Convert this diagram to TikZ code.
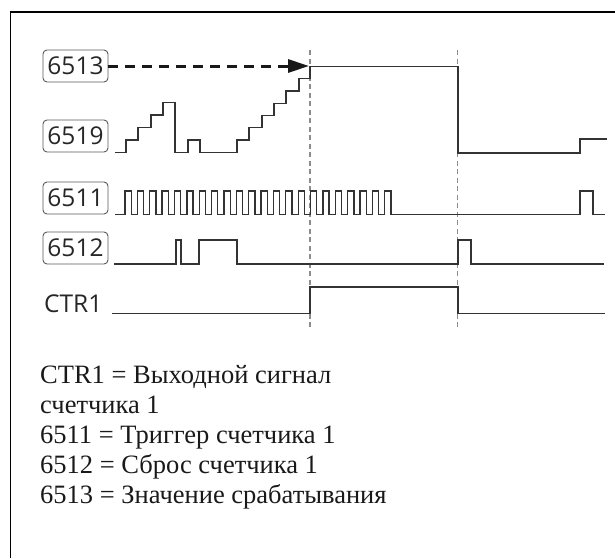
\documentclass[tikz,border=0pt]{standalone}
\usepackage{fontspec}
\setmainfont{Liberation Serif}
\newfontfamily\lblfont{Open Sans}
\usetikzlibrary{arrows.meta}
\begin{document}
\begin{tikzpicture}[x=1pt,y=-1pt,
  sig/.style={line width=1.3pt, draw=black!80, line join=miter},
  lbl/.style={draw=black!65, rounded corners=4pt, line width=0.9pt, minimum width=65pt, minimum height=32pt, inner sep=0pt, font=\lblfont\fontsize{24.5}{24.5}\selectfont, text=black!85},
  plainlbl/.style={inner sep=0pt, anchor=west, font=\lblfont\fontsize{24.5}{24.5}\selectfont, text=black!85},
  guide/.style={draw=black!45, line width=1.1pt, dash pattern=on 5pt off 3.5pt},
  setp/.style={draw=black!90, line width=3pt, dash pattern=on 10pt off 7pt, -{Triangle[length=21pt,width=13pt]}},
  legend/.style={anchor=base west, inner sep=0pt, font=\fontsize{26.5}{30}\selectfont, text=black!90}]
\useasboundingbox (0,0) rectangle (615,558);
% frame
\draw[line width=1.3pt, black] (10.5,558) -- (10.5,12) -- (615,12);

% labels
\node[lbl] (l6513) at (75.5,66) {6513};
\node[lbl] (l6519) at (75.5,136) {6519};
\node[lbl] (l6511) at (75.5,198) {6511};
\node[lbl] (l6512) at (75.5,248) {6512};
\node[plainlbl] (lctr) at (44,304) {CTR1};

% guides
\coordinate (g1t) at (310,50); \coordinate (g1b) at (310,330);
\coordinate (g2t) at (457.5,50); \coordinate (g2b) at (457.5,330);
\draw[guide] (g1t) -- (g1b);
\draw[guide] (g2t) -- (g2b);

% setpoint arrow
\coordinate (a6513) at (309,66);
\draw[setp] (l6513.east) -- (a6513);

% 6519 signal
\draw[sig] (115,152.5) -- (126,152.5) -- (126,140) -- (138,140) -- (138,127.5) -- (151,127.5) -- (151,115) -- (163,115) -- (163,102.5) -- (175,102.5) -- (175,152.5) -- (188,152.5) -- (188,140) -- (200,140) -- (200,152.5) -- (237,152.5) -- (237,140) -- (249,140) -- (249,127.7) -- (262,127.7) -- (262,115.5) -- (274,115.5) -- (274,103.2) -- (286,103.2) -- (286,91) -- (299,91) -- (299,78.7) -- (310,78.7) -- (310,66.5) -- (458,66.5) -- (458,153) -- (580,153) -- (580,139) -- (607,139);

% 6511 signal
\draw[sig] (115,214.5) \foreach \i in {0,...,21}{ -- ({125+12.37*\i},214.5) -- ++(0,-23.5) -- ++(6.2,0) -- ++(0,23.5) } -- (580,214.5) -- (580,191) -- (593,191) -- (593,214.5) -- (605,214.5);

% 6512 signal
\draw[sig] (114,264) -- (176,264) -- (176,240) -- (181,240) -- (181,264) -- (199,264) -- (199,240) -- (237,240) -- (237,264) -- (458,264) -- (458,240) -- (471,240) -- (471,264) -- (604,264);

% CTR1 signal
\draw[sig] (112,313.5) -- (310,313.5) -- (310,287) -- (458,287) -- (458,313.5) -- (605,313.5);

% legend
\node[legend] (t1) at (40,383) {CTR1 = Выходной сигнал};
\node[legend] (t2) at (40,413) {счетчика 1};
\node[legend] (t3) at (40,443) {6511 = Триггер счетчика 1};
\node[legend] (t4) at (40,473) {6512 = Сброс счетчика 1};
\node[legend] (t5) at (40,503) {6513 = Значение срабатывания};
\end{tikzpicture}
\end{document}
